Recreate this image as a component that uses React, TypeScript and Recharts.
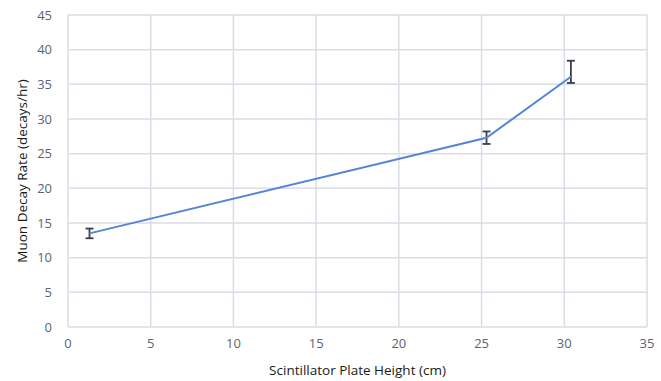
import { LineChart, Line, XAxis, YAxis, CartesianGrid, ErrorBar } from 'recharts'

const heights = [1.3, 25.3, 30.4]
const rates = [13.5, 27.3, 36.1]
const errLow = [0.7, 0.9, 0.9]
const errHigh = [0.7, 0.9, 2.3]
const xTicks = [0, 5, 10, 15, 20, 25, 30, 35]
const yTicks = [0, 5, 10, 15, 20, 25, 30, 35, 40, 45]

const data = heights.map((h, i) => ({
  height: h,
  rate: rates[i],
  err: [errLow[i], errHigh[i]],
}))

export default function App() {
  const tickStyle = { fontSize: 13, fill: '#5b6474', fontFamily: 'Open Sans, sans-serif' }
  const labelStyle = { fontSize: 13.5, fill: '#1a1a1a', fontFamily: 'Open Sans, sans-serif' }
  const gridStroke = '#d9dee6'
  return (
    <div style={{ position: 'absolute', left: 0, top: 0, width: 661, height: 381, background: '#fff' }}>
      <LineChart width={661} height={381} data={data} margin={{ top: 15, right: 14, left: 0, bottom: 0 }}>
        <CartesianGrid stroke={gridStroke} strokeWidth={1.5} />
        <XAxis
          type="number"
          dataKey="height"
          domain={[0, 35]}
          ticks={xTicks}
          axisLine={false}
          tickLine={false}
          tickSize={0}
          tickMargin={12}
          height={54}
          tick={tickStyle}
          label={{
            value: 'Scintillator Plate Height (cm)',
            position: 'insideBottom',
            offset: 6,
            style: labelStyle,
          }}
        />
        <YAxis
          type="number"
          domain={[0, 45]}
          ticks={yTicks}
          axisLine={false}
          tickLine={false}
          tickSize={0}
          tickMargin={16}
          width={68}
          tick={tickStyle}
          label={{
            value: 'Muon Decay Rate (decays/hr)',
            angle: -90,
            position: 'insideLeft',
            offset: 22,
            style: { ...labelStyle, textAnchor: 'middle' },
          }}
        />
        <Line
          type="linear"
          dataKey="rate"
          stroke="#5585d6"
          strokeWidth={2}
          dot={false}
          isAnimationActive={false}
        >
          <ErrorBar dataKey="err" direction="y" width={4} stroke="#3a3f4a" strokeWidth={1.8} />
        </Line>
      </LineChart>
    </div>
  )
}
